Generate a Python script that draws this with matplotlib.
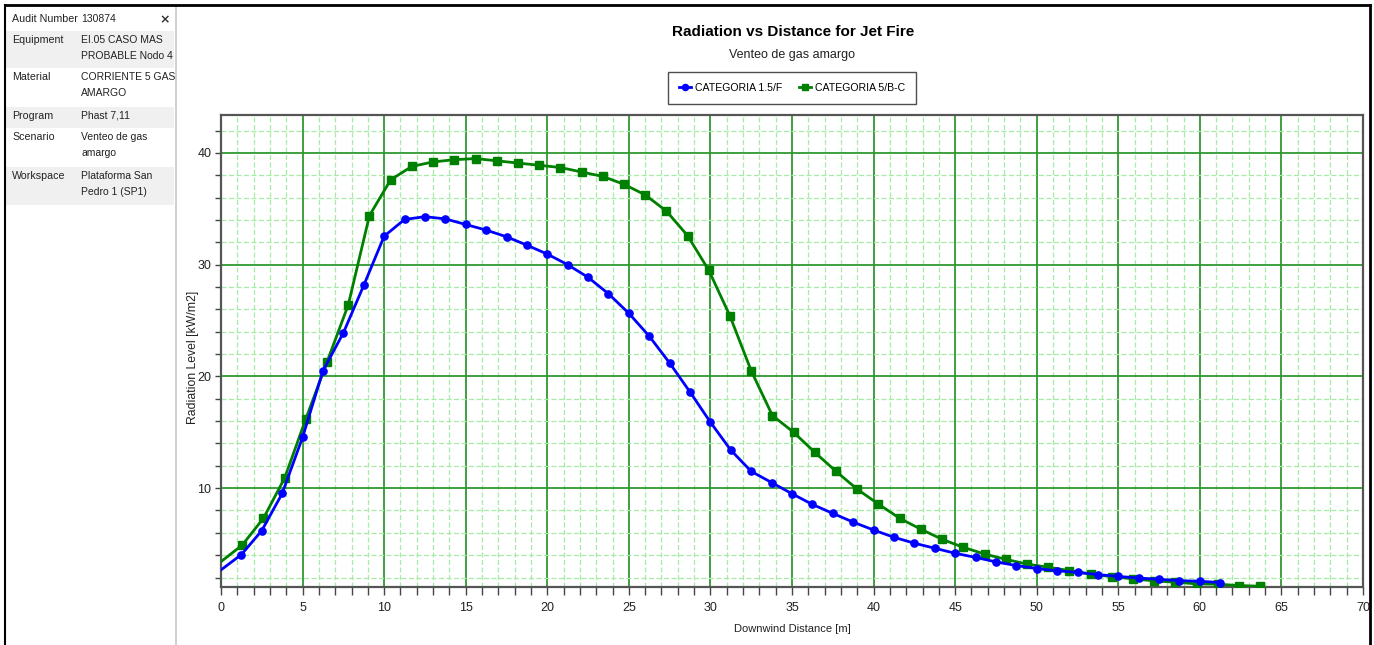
import matplotlib
matplotlib.use('Agg')
import matplotlib.pyplot as plt
from matplotlib.patches import Rectangle
from matplotlib.lines import Line2D
from matplotlib.ticker import MultipleLocator

# Radiation curves (first point at x=0 is drawn without a marker)
dist_f = [0, 1.25, 2.5, 3.75, 5.0, 6.25, 7.5, 8.75, 10.0, 11.25, 12.5, 13.75,
          15.0, 16.25, 17.5, 18.75, 20.0, 21.25, 22.5, 23.75, 25.0, 26.25,
          27.5, 28.75, 30.0, 31.25, 32.5, 33.75, 35.0, 36.25, 37.5, 38.75,
          40.0, 41.25, 42.5, 43.75, 45.0, 46.25, 47.5, 48.75, 50.0, 51.25,
          52.5, 53.75, 55.0, 56.25, 57.5, 58.75, 60.0, 61.25]
rad_f = [2.68, 4.05, 6.2, 9.52, 14.55, 20.5, 23.9, 28.15, 32.55, 34.05, 34.3,
         34.1, 33.6, 33.1, 32.5, 31.75, 30.95, 30.0, 28.87, 27.4, 25.65, 23.6,
         21.2, 18.6, 15.9, 13.4, 11.5, 10.5, 9.5, 8.54, 7.74, 6.96, 6.25, 5.6,
         5.07, 4.62, 4.17, 3.8, 3.4, 3.07, 2.8, 2.6, 2.46, 2.26, 2.1, 1.95,
         1.84, 1.72, 1.66, 1.55]

dist_bc = [0, 1.3, 2.6, 3.9, 5.2, 6.5, 7.8, 9.1, 10.4, 11.7, 13.0, 14.3, 15.6,
           16.9, 18.2, 19.5, 20.8, 22.1, 23.4, 24.7, 26.0, 27.3, 28.6, 29.9,
           31.2, 32.5, 33.8, 35.1, 36.4, 37.7, 39.0, 40.3, 41.6, 42.9, 44.2,
           45.5, 46.8, 48.1, 49.4, 50.7, 52.0, 53.3, 54.6, 55.9, 57.2, 58.5,
           59.8, 61.1, 62.4, 63.7]
rad_bc = [3.42, 4.9, 7.3, 10.9, 16.2, 21.3, 26.4, 34.4, 37.6, 38.8, 39.2, 39.4,
          39.5, 39.3, 39.1, 38.9, 38.7, 38.3, 37.9, 37.2, 36.25, 34.8, 32.6,
          29.5, 25.4, 20.5, 16.5, 15.0, 13.2, 11.5, 9.9, 8.57, 7.3, 6.32, 5.42,
          4.7, 4.1, 3.63, 3.2, 2.92, 2.62, 2.3, 2.08, 1.88, 1.7, 1.58, 1.43,
          1.4, 1.28, 1.22]

series_names = ['CATEGORIA 1.5/F', 'CATEGORIA 5/B-C']

info_labels = ['Audit Number', 'Equipment', 'Material', 'Program', 'Scenario', 'Workspace']
info_values = ['130874', 'EI.05 CASO MAS\nPROBABLE Nodo 4', 'CORRIENTE 5 GAS\nAMARGO',
               'Phast 7,11', 'Venteo de gas\namargo', 'Plataforma San\nPedro 1 (SP1)']

plt.rcParams['font.family'] = ['Liberation Sans', 'DejaVu Sans']

W, H = 1374, 645
fig = plt.figure(figsize=(W / 100, H / 100), dpi=100)


def fx(px):
    return px / W


def fy(py):
    return 1 - py / H


# left info panel
row_tops = [10, 31, 68, 107, 128, 167]
row_bots = [31, 68, 107, 128, 167, 205]
for i, (lab, val) in enumerate(zip(info_labels, info_values)):
    if i % 2 == 1:
        fig.patches.append(Rectangle((fx(6), fy(row_bots[i])), fx(168), (row_bots[i] - row_tops[i]) / H,
                                     transform=fig.transFigure, facecolor='#f0f0f0',
                                     edgecolor='none', zorder=0))
    fig.text(fx(12), fy(row_tops[i] + 4), lab, fontsize=7.7, va='top', ha='left', color='#222222',
             linespacing=1.7)
    fig.text(fx(81), fy(row_tops[i] + 4), val, fontsize=7.5, va='top', ha='left', color='#222222',
             linespacing=1.72)
fig.text(fx(165), fy(20), '×', fontsize=9, fontweight='bold', ha='center', va='center',
         color='#333333', family='DejaVu Sans')

# frame lines
fig.add_artist(Line2D([fx(176), fx(176)], [0, fy(5)], color='#c8c8c8', lw=1.2))
fig.add_artist(Line2D([fx(5), fx(1370)], [fy(5), fy(5)], color='black', lw=2))
fig.add_artist(Line2D([fx(5), fx(5)], [0, fy(5)], color='black', lw=1.5))
fig.add_artist(Line2D([fx(1370), fx(1370)], [0, fy(5)], color='black', lw=2))

ax = fig.add_axes([fx(221), 1 - 587 / H, (1363 - 221) / W, (587 - 115) / H])

ax.plot(dist_f, rad_f, color='#0000ff', lw=2, marker='o', markersize=5.2,
        markevery=list(range(1, len(dist_f))), label=series_names[0], zorder=4)
ax.plot(dist_bc, rad_bc, color='#008000', lw=2, marker='s', markersize=5.2,
        markevery=list(range(1, len(dist_bc))), label=series_names[1], zorder=3)

ax.set_xlim(0, 70)
ax.set_ylim(1.15, 43.4)
ax.xaxis.set_major_locator(MultipleLocator(5))
ax.xaxis.set_minor_locator(MultipleLocator(1))
ax.yaxis.set_major_locator(MultipleLocator(10))
ax.yaxis.set_minor_locator(MultipleLocator(2))

ax.grid(which='minor', color='#a6eca6', ls=(0, (4, 2)), lw=0.9)
ax.grid(which='major', color='#2f992f', ls='-', lw=1.3)
ax.set_axisbelow(True)

for s in ax.spines.values():
    s.set_color('#555555')
    s.set_linewidth(1.6)

ax.tick_params(which='major', length=6, width=1, color='#444444', labelsize=9, labelcolor='#222222')
ax.tick_params(which='minor', length=6, width=1, color='#444444')
ax.tick_params(axis='y', which='both', length=4, pad=3)
ax.tick_params(axis='x', pad=5)

ax.set_xlabel('Downwind Distance [m]', fontsize=8, color='#222222', labelpad=7)
ax.set_ylabel('Radiation Level [kW/m2]', fontsize=8.8, color='#222222')
ax.yaxis.set_label_coords(-0.019, 0.487)

fig.text(fx(793), fy(32), 'Radiation vs Distance for Jet Fire', fontsize=11, fontweight='bold',
         ha='center', va='center', color='black')
fig.text(fx(792), fy(55), 'Venteo de gas amargo', fontsize=9, ha='center', va='center',
         color='#222222')

leg = fig.legend(loc='center', bbox_to_anchor=(fx(792), fy(88)), ncol=2, frameon=True,
                 fancybox=False, edgecolor='#222222', fontsize=7.6, handlelength=1.1,
                 borderpad=1.0, columnspacing=1.6, handletextpad=0.4, markerscale=0.85)
leg.get_frame().set_linewidth(1)

plt.savefig('out.png', dpi=100)
